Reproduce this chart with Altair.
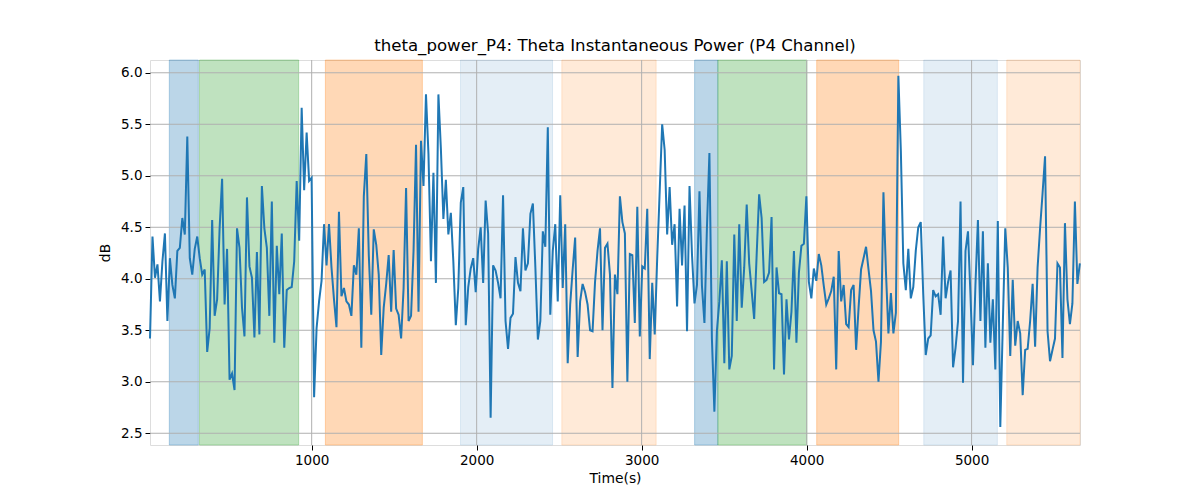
import altair as alt
import pandas as pd

# ---- data ----
theta_db = [
    3.42, 4.41, 4.01, 4.14, 3.78, 4.17, 4.44, 3.59, 4.20, 3.94, 3.81, 4.27, 4.30, 4.59, 4.43, 5.38,
    4.20, 4.04, 4.29, 4.41, 4.20, 4.04, 4.09, 3.29, 3.52, 4.57, 3.64, 3.80, 4.49, 4.97, 3.75, 4.29,
    3.02, 3.08, 2.92, 4.49, 4.30, 3.72, 3.44, 4.79, 4.12, 4.01, 3.43, 4.26, 3.46, 4.90,
    4.49, 4.30, 3.64, 4.75, 3.38, 4.32, 3.85, 4.44, 3.33, 3.89, 3.91, 3.92, 4.17, 4.95, 4.37, 5.66,
    4.86, 5.42, 4.95, 4.98, 2.85, 3.52, 3.78, 3.98, 4.53, 4.13, 4.53, 4.11, 3.80, 3.53, 4.65, 3.83,
    3.91, 3.78, 3.75, 3.64, 4.13, 4.04, 4.49, 3.33, 4.80, 5.21, 4.23, 3.65, 4.48, 4.33, 4.04, 3.26,
    3.72, 3.95, 4.23, 3.68, 4.28, 3.71, 3.65, 3.42, 3.91, 4.88, 3.59, 3.64, 4.27, 5.30, 3.68, 5.34,
    4.90, 5.79, 5.21, 4.17, 5.03, 3.96, 5.79, 5.26, 4.58, 4.96, 4.43, 4.64, 4.17, 3.55, 3.91, 4.74,
    4.89, 3.55, 3.92, 4.10, 4.20, 3.87, 4.29, 4.50, 3.96, 4.76, 4.44, 2.65, 4.13, 4.08, 3.96,
    3.81, 4.81, 3.59, 3.32, 3.62, 3.66, 4.21, 3.96, 3.88, 4.49, 4.08, 4.15, 4.63, 4.73, 4.11, 3.41,
    3.59, 4.46, 4.31, 5.47, 3.65, 4.27, 4.53, 3.78, 4.81, 3.91, 4.53, 3.18, 3.75, 4.09, 4.40, 3.24,
    3.78, 3.95, 3.87, 3.75, 3.50, 3.49, 3.97, 4.27, 4.49, 3.50, 4.30, 4.34, 4.04, 2.94, 4.04,
    3.85, 4.80, 4.55, 4.44, 3.00, 4.24, 4.23, 3.57, 4.70, 3.44, 4.12, 4.10, 4.68, 3.22, 3.96, 3.46,
    4.20, 4.85, 5.50, 5.25, 4.43, 4.89, 4.33, 4.53, 3.73, 4.68, 4.13, 4.71, 3.49, 4.90, 4.23, 3.76,
    3.94, 4.85, 3.93, 3.57, 4.49, 5.22, 3.42, 2.71, 3.49, 3.78, 4.18, 3.18, 4.17, 3.12, 3.25, 4.43,
    3.59, 4.53, 3.72, 4.11, 4.72, 4.15, 3.88, 3.61, 4.23, 4.82, 4.59, 3.97, 3.99, 4.06, 4.60, 3.12,
    4.11, 3.86, 3.85, 3.07, 3.80, 3.41, 3.68, 4.27, 3.38, 4.06, 4.32, 4.34, 4.80, 3.97, 3.81, 4.10,
    3.98, 4.24, 4.13, 3.93, 3.75, 3.81, 3.88, 4.02, 3.12, 4.27, 3.78, 3.94, 3.56, 3.53, 3.89,
    3.94, 3.31, 3.72, 4.09, 4.20, 4.31, 4.09, 3.88, 3.50, 3.39, 3.00, 3.39, 4.84, 4.07, 3.47, 3.86,
    3.47, 3.67, 5.97, 5.24, 4.15, 3.89, 4.29, 3.81, 3.92, 4.27, 4.50, 4.55, 3.85, 3.26, 3.42, 3.45,
    3.89, 3.83, 3.85, 3.65, 4.41, 3.81, 3.97, 4.08, 3.14, 3.33, 3.59, 4.75, 2.99, 4.27, 4.46,
    3.84, 3.16, 3.94, 4.57, 3.59, 4.46, 3.33, 4.15, 3.38, 3.80, 3.12, 4.56, 2.56, 3.55, 4.49, 4.11,
    3.25, 3.99, 3.35, 3.59, 3.47, 2.87, 3.31, 3.32, 3.59, 3.95, 3.34, 4.11, 4.49, 4.83, 5.19, 3.49,
    3.20, 3.31, 3.42, 4.15, 4.11, 3.23, 4.54, 3.80, 3.56, 3.76, 4.75, 3.95, 4.15,
]
T0 = 20.0      # first sample time (s)
STEP = 15.07   # sampling interval (s)
times = [round(T0 + i * STEP, 2) for i in range(len(theta_db))]

span_start = [137, 320, 1083, 1902, 2516, 3321, 3462, 4061, 4710, 5213]
span_end = [313, 921, 1671, 2460, 3088, 3462, 4002, 4558, 5156, 5657]
span_color = ["#1f77b4", "#2ca02c", "#ff7f0e", "#1f77b4", "#ff7f0e",
              "#1f77b4", "#2ca02c", "#ff7f0e", "#1f77b4", "#ff7f0e"]
span_alpha = [0.3, 0.3, 0.3, 0.12, 0.16, 0.3, 0.3, 0.3, 0.12, 0.16]

x_ticks = [1000, 2000, 3000, 4000, 5000]
y_ticks = [2.5, 3.0, 3.5, 4.0, 4.5, 5.0, 5.5, 6.0]

X_DOMAIN = [20, 5657]
Y_DOMAIN = [2.386, 6.124]

line_df = pd.DataFrame({"t": times, "v": theta_db})
span_df = pd.DataFrame({"s": span_start, "e": span_end, "c": span_color, "a": span_alpha})
xg_df = pd.DataFrame({"t": x_ticks})
yg_df = pd.DataFrame({"v": y_ticks})

FONT = "DejaVu Sans"
xscale = alt.Scale(domain=X_DOMAIN, nice=False, zero=False)
yscale = alt.Scale(domain=Y_DOMAIN, nice=False, zero=False)

spans = alt.Chart(span_df).mark_rect(strokeWidth=1).encode(
    x=alt.X("s:Q", scale=xscale),
    x2="e:Q",
    y=alt.value(0),
    y2=alt.value(385),
    fill=alt.Fill("c:N", scale=None),
    stroke=alt.Stroke("c:N", scale=None),
    fillOpacity=alt.FillOpacity("a:Q", scale=None),
    strokeOpacity=alt.StrokeOpacity("a:Q", scale=None),
)

xgrid = alt.Chart(xg_df).mark_rule(color="#b0b0b0", strokeWidth=1).encode(
    x=alt.X("t:Q", scale=xscale), y=alt.value(0), y2=alt.value(385)
)
ygrid = alt.Chart(yg_df).mark_rule(color="#b0b0b0", strokeWidth=1).encode(
    y=alt.Y("v:Q", scale=yscale), x=alt.value(0), x2=alt.value(930)
)

line = alt.Chart(line_df).mark_line(color="#1f77b4", strokeWidth=2).encode(
    x=alt.X("t:Q", scale=xscale,
            axis=alt.Axis(values=x_ticks, format="d", title="Time(s)", grid=False,
                          tickSize=5, tickColor="black", domain=False,
                          labelFont=FONT, labelFontSize=13.5, labelColor="black", labelPadding=3,
                          titleFont=FONT, titleFontSize=13.9, titleFontWeight="normal",
                          titleColor="black", titlePadding=5)),
    y=alt.Y("v:Q", scale=yscale,
            axis=alt.Axis(values=y_ticks, format=".1f", title="dB", grid=False,
                          tickSize=5, tickColor="black", domain=False,
                          labelFont=FONT, labelFontSize=13.5, labelColor="black", labelPadding=3,
                          titleFont=FONT, titleFontSize=13.9, titleFontWeight="normal",
                          titleColor="black", titlePadding=8)),
)

chart = alt.layer(spans, xgrid, ygrid, line).properties(
    width=930,
    height=385,
    title=alt.TitleParams(
        "theta_power_P4: Theta Instantaneous Power (P4 Channel)",
        font=FONT, fontSize=16.6, fontWeight="normal", color="black", offset=5, anchor="middle",
    ),
    autosize=alt.AutoSizeParams(type="none"),
    padding={"left": 150, "top": 60, "right": 120, "bottom": 55},
).configure_view(stroke="black", strokeWidth=1).configure(background="white")

chart.save("out.html", embed_options={"renderer": "svg", "actions": False})
